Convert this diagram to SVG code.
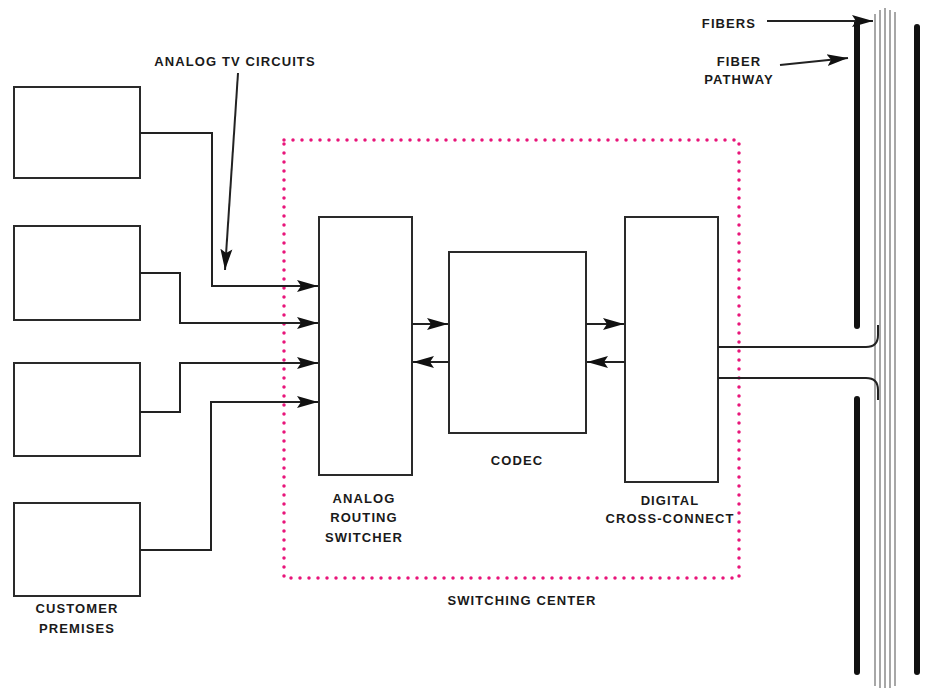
<svg xmlns="http://www.w3.org/2000/svg" width="929" height="693" viewBox="0 0 929 693">
<style>
.box{fill:#fff;stroke:#2a2a2a;stroke-width:2}
.wire{fill:none;stroke:#222;stroke-width:2}
.lbl{font-family:"Liberation Sans",Arial,sans-serif;font-weight:bold;font-size:13px;fill:#1a1a1a;letter-spacing:1.1px;text-anchor:middle}
.fiber{stroke:#8a8a8a;stroke-width:1.5;fill:none}
.bar{stroke:#111;stroke-width:6;stroke-linecap:round}
</style>
<defs>
<marker id="ah" markerUnits="userSpaceOnUse" markerWidth="22" markerHeight="14" refX="21" refY="7" orient="auto">
<path d="M0,1 L21,7 L0,13 L4,7 Z" fill="#111"/>
</marker>
</defs>
<rect width="929" height="693" fill="#fff"/>

<g id="switching-center">
<rect x="284" y="140" width="455" height="438" fill="none" stroke="#e8157a" stroke-width="3.5" stroke-dasharray="0 9" stroke-linecap="round"/>
<text class="lbl" x="522" y="605">SWITCHING CENTER</text>
</g>

<g id="customer1"><rect class="box" x="14" y="87" width="126" height="91"/></g>
<g id="customer2"><rect class="box" x="14" y="226" width="126" height="94"/></g>
<g id="customer3"><rect class="box" x="14" y="363" width="126" height="93"/></g>
<g id="customer4"><rect class="box" x="14" y="503" width="126" height="93"/>
<text class="lbl" x="77" y="613">CUSTOMER</text>
<text class="lbl" x="77" y="633">PREMISES</text>
</g>

<g id="analog-routing-switcher">
<rect class="box" x="319" y="217" width="93" height="258"/>
<text class="lbl" x="364" y="503">ANALOG</text>
<text class="lbl" x="364" y="522">ROUTING</text>
<text class="lbl" x="364" y="542">SWITCHER</text>
</g>

<g id="codec">
<rect class="box" x="449" y="252" width="137" height="181"/>
<text class="lbl" x="517" y="465">CODEC</text>
</g>

<g id="digital-cross-connect">
<rect class="box" x="625" y="217" width="93" height="265"/>
<text class="lbl" x="670" y="505">DIGITAL</text>
<text class="lbl" x="670" y="523">CROSS-CONNECT</text>
</g>

<g id="fiber-pathway">
<line class="bar" x1="857" y1="22" x2="857" y2="326"/>
<line class="bar" x1="857" y1="399" x2="857" y2="672"/>
<line class="bar" x1="917" y1="27" x2="917" y2="672"/>
<line class="fiber" x1="875" y1="14" x2="875" y2="686"/>
<line class="fiber" x1="880" y1="10" x2="880" y2="688"/>
<line class="fiber" x1="885" y1="8" x2="885" y2="688"/>
<line class="fiber" x1="890" y1="10" x2="890" y2="688"/>
<line class="fiber" x1="895" y1="12" x2="895" y2="686"/>
<text class="lbl" x="729" y="28">FIBERS</text>
<text class="lbl" x="739" y="66">FIBER</text>
<text class="lbl" x="739" y="84">PATHWAY</text>
</g>

<g id="connectors">
<path class="wire" d="M140,133 H212 V286 H318" marker-end="url(#ah)"/>
<path class="wire" d="M140,273 H180 V323 H318" marker-end="url(#ah)"/>
<path class="wire" d="M140,412 H180 V363 H318" marker-end="url(#ah)"/>
<path class="wire" d="M140,550 H211 V402 H318" marker-end="url(#ah)"/>
<path class="wire" d="M412,324 H448" marker-end="url(#ah)"/>
<path class="wire" d="M449,362 H413" marker-end="url(#ah)"/>
<path class="wire" d="M586,324 H624" marker-end="url(#ah)"/>
<path class="wire" d="M625,362 H587" marker-end="url(#ah)"/>
<path class="wire" d="M718,347 H866 Q878,347 878,335 V325"/>
<path class="wire" d="M718,378 H866 Q878,378 878,390 V400"/>
<path class="wire" stroke-width="1.5" d="M238,73 L225,270" marker-end="url(#ah)"/>
<path class="wire" stroke-width="1.5" d="M767,21 H873" marker-end="url(#ah)"/>
<path class="wire" stroke-width="1.5" d="M780,65 L848,58" marker-end="url(#ah)"/>
</g>

<g id="analog-tv-label">
<text class="lbl" x="235" y="66">ANALOG TV CIRCUITS</text>
</g>
</svg>
